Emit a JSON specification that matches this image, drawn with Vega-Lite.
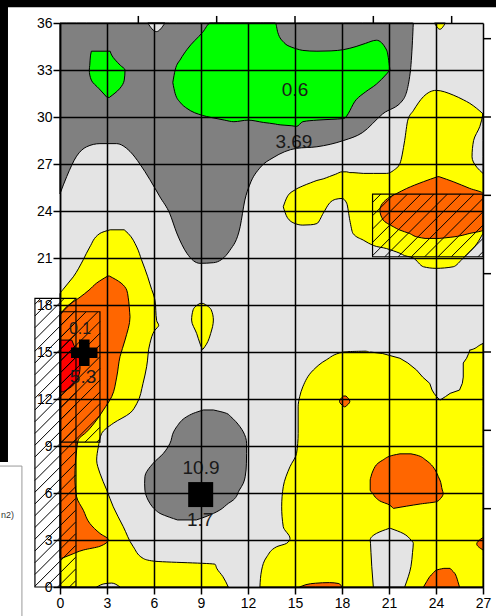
{
  "$schema": "https://vega.github.io/schema/vega-lite/v6.json",
  "width": 423,
  "height": 564,
  "autosize": {"type": "none"},
  "padding": {"left": 60, "top": 23, "right": 13, "bottom": 29},
  "background": "white",
  "config": {"view": {"stroke": null, "fill": "#E4E4E4"}},
  "datasets": {
    "bands": [{"x": -4, "x2": 28, "y": 37.01, "y2": 37.6}, {"x": -4, "x2": -3.32, "y": 7.98, "y2": 37.6}],
    "wbox": [{"x": -4.5, "x2": -2.43, "y": -2.5, "y2": 7.72}],
    "wtext": [{"x": -3.76, "y": 4.6, "t": "n2)"}],
    "darkV": [
      {"id": "A", "x": 0, "y": 25.1, "y2": 36}, {"id": "A", "x": 0.43, "y": 26.2, "y2": 36}, {"id": "A", "x": 1.06, "y": 27.5, "y2": 36},
      {"id": "A", "x": 1.7, "y": 28.1, "y2": 36}, {"id": "A", "x": 2.55, "y": 28.3, "y2": 36}, {"id": "A", "x": 3.6, "y": 28.3, "y2": 36},
      {"id": "A", "x": 4.47, "y": 27.8, "y2": 36}, {"id": "A", "x": 5.1, "y": 27.0, "y2": 36}, {"id": "A", "x": 5.74, "y": 26.0, "y2": 36},
      {"id": "A", "x": 6.38, "y": 24.9, "y2": 36}, {"id": "A", "x": 7.0, "y": 23.85, "y2": 36}, {"id": "A", "x": 7.45, "y": 22.6, "y2": 36},
      {"id": "A", "x": 8.1, "y": 21.3, "y2": 36}, {"id": "A", "x": 8.93, "y": 20.66, "y2": 36}, {"id": "A", "x": 9.8, "y": 20.7, "y2": 36},
      {"id": "A", "x": 10.85, "y": 21.5, "y2": 36}, {"id": "A", "x": 11.5, "y": 23.0, "y2": 36}, {"id": "A", "x": 11.8, "y": 24.7, "y2": 36},
      {"id": "A", "x": 12.1, "y": 25.65, "y2": 36}, {"id": "A", "x": 12.8, "y": 26.8, "y2": 36}, {"id": "A", "x": 13.6, "y": 27.4, "y2": 36},
      {"id": "A", "x": 15.1, "y": 28.0, "y2": 36}, {"id": "A", "x": 16.4, "y": 28.1, "y2": 36}, {"id": "A", "x": 18.1, "y": 28.5, "y2": 36},
      {"id": "A", "x": 19.3, "y": 29.0, "y2": 36}, {"id": "A", "x": 20.6, "y": 30.2, "y2": 36}, {"id": "A", "x": 21.9, "y": 31.1, "y2": 36},
      {"id": "A", "x": 22.35, "y": 32.8, "y2": 36}, {"id": "A", "x": 22.5, "y": 34.9, "y2": 36}, {"id": "A", "x": 22.55, "y": 36, "y2": 36}
    ],
    "greenH": [
      {"id": "B1", "y": 31.25, "x": 3.0, "x2": 3.15}, {"id": "B1", "y": 31.8, "x": 2.5, "x2": 3.8}, {"id": "B1", "y": 32.35, "x": 2.0, "x2": 4.1},
      {"id": "B1", "y": 33.0, "x": 1.87, "x2": 4.15}, {"id": "B1", "y": 33.3, "x": 1.9, "x2": 3.85}, {"id": "B1", "y": 33.95, "x": 1.95, "x2": 3.3},
      {"id": "B1", "y": 34.2, "x": 2.0, "x2": 3.2}
    ],
    "greenV": [
      {"id": "B2", "x": 7.2, "y": 32.2, "y2": 32.2}, {"id": "B2", "x": 7.35, "y": 31.5, "y2": 33.0}, {"id": "B2", "x": 7.7, "y": 30.9, "y2": 33.7},
      {"id": "B2", "x": 8.1, "y": 30.55, "y2": 34.3}, {"id": "B2", "x": 9.1, "y": 30.1, "y2": 35.4}, {"id": "B2", "x": 9.6, "y": 29.98, "y2": 36},
      {"id": "B2", "x": 10.5, "y": 29.8, "y2": 36}, {"id": "B2", "x": 11.1, "y": 29.7, "y2": 36}, {"id": "B2", "x": 12.0, "y": 29.8, "y2": 36},
      {"id": "B2", "x": 13.0, "y": 29.65, "y2": 36}, {"id": "B2", "x": 13.75, "y": 29.55, "y2": 36}, {"id": "B2", "x": 13.9, "y": 29.52, "y2": 35.4},
      {"id": "B2", "x": 14.3, "y": 29.48, "y2": 34.75}, {"id": "B2", "x": 14.8, "y": 29.44, "y2": 34.45}, {"id": "B2", "x": 15.1, "y": 29.4, "y2": 34.35},
      {"id": "B2", "x": 15.5, "y": 29.7, "y2": 34.25}, {"id": "B2", "x": 16.4, "y": 29.8, "y2": 34.2}, {"id": "B2", "x": 17.3, "y": 29.85, "y2": 34.22},
      {"id": "B2", "x": 18.1, "y": 29.9, "y2": 34.3}, {"id": "B2", "x": 18.9, "y": 31.1, "y2": 34.5}, {"id": "B2", "x": 19.5, "y": 31.6, "y2": 34.7},
      {"id": "B2", "x": 20.2, "y": 32.1, "y2": 34.9}, {"id": "B2", "x": 20.85, "y": 32.75, "y2": 34.27}, {"id": "B2", "x": 21.06, "y": 33.0, "y2": 33.0}
    ],
    "darkH": [
      {"id": "G", "y": 4.28, "x": 7.5, "x2": 8.7}, {"id": "G", "y": 4.45, "x": 7.0, "x2": 9.2}, {"id": "G", "y": 4.7, "x": 6.38, "x2": 9.8},
      {"id": "G", "y": 4.91, "x": 6.1, "x2": 10.2}, {"id": "G", "y": 5.34, "x": 5.74, "x2": 10.75}, {"id": "G", "y": 5.55, "x": 5.62, "x2": 11.06},
      {"id": "G", "y": 6.19, "x": 5.42, "x2": 11.45}, {"id": "G", "y": 6.62, "x": 5.4, "x2": 11.7}, {"id": "G", "y": 7.04, "x": 5.42, "x2": 11.82},
      {"id": "G", "y": 7.9, "x": 5.95, "x2": 11.9}, {"id": "G", "y": 8.53, "x": 6.6, "x2": 11.91}, {"id": "G", "y": 9.17, "x": 7.02, "x2": 11.91},
      {"id": "G", "y": 9.9, "x": 7.25, "x2": 11.7}, {"id": "G", "y": 10.23, "x": 7.45, "x2": 11.49}, {"id": "G", "y": 10.87, "x": 8.09, "x2": 10.9},
      {"id": "G", "y": 11.08, "x": 8.5, "x2": 10.64}, {"id": "G", "y": 11.3, "x": 9.15, "x2": 9.79}
    ],
    "yellowH": [
      {"id": "C1", "y": 0, "x": 0, "x2": 10.74}, {"id": "C1", "y": 0.66, "x": 0, "x2": 10.4}, {"id": "C1", "y": 1.2, "x": 0, "x2": 10.0},
      {"id": "C1", "y": 1.45, "x": 0, "x2": 9.9}, {"id": "C1", "y": 1.65, "x": 0, "x2": 6.0}, {"id": "C1", "y": 1.83, "x": 0, "x2": 5.3},
      {"id": "C1", "y": 2.57, "x": 0, "x2": 4.68}, {"id": "C1", "y": 3.85, "x": 0, "x2": 4.04}, {"id": "C1", "y": 5.12, "x": 0, "x2": 3.4},
      {"id": "C1", "y": 6.2, "x": 0, "x2": 2.98}, {"id": "C1", "y": 7.26, "x": 0, "x2": 2.55}, {"id": "C1", "y": 8.1, "x": 0, "x2": 2.34},
      {"id": "C1", "y": 8.95, "x": 0, "x2": 2.45}, {"id": "C1", "y": 9.8, "x": 0, "x2": 2.66}, {"id": "C1", "y": 10.45, "x": 0, "x2": 3.4},
      {"id": "C1", "y": 11.1, "x": 0, "x2": 4.47}, {"id": "C1", "y": 11.7, "x": 0, "x2": 4.9}, {"id": "C1", "y": 13.0, "x": 0, "x2": 5.3},
      {"id": "C1", "y": 14.06, "x": 0, "x2": 5.53}, {"id": "C1", "y": 15.55, "x": 0, "x2": 5.74}, {"id": "C1", "y": 16.4, "x": 0, "x2": 6.06},
      {"id": "C1", "y": 16.7, "x": 0, "x2": 6.3}, {"id": "C1", "y": 17.0, "x": 0, "x2": 6.17}, {"id": "C1", "y": 18.3, "x": 0, "x2": 6.06},
      {"id": "C1", "y": 18.7, "x": 0, "x2": 5.96}, {"id": "C1", "y": 19.0, "x": 0.2, "x2": 5.85}, {"id": "C1", "y": 19.8, "x": 0.85, "x2": 5.6},
      {"id": "C1", "y": 20.9, "x": 1.49, "x2": 5.2}, {"id": "C1", "y": 21.7, "x": 1.9, "x2": 4.9}, {"id": "C1", "y": 22.57, "x": 2.55, "x2": 4.35},
      {"id": "C1", "y": 22.8, "x": 3.2, "x2": 4.1},
      {"id": "C2", "y": 15.17, "x": 9.08, "x2": 9.12}, {"id": "C2", "y": 15.5, "x": 8.95, "x2": 9.35}, {"id": "C2", "y": 16.19, "x": 8.72, "x2": 9.62},
      {"id": "C2", "y": 17.04, "x": 8.4, "x2": 9.79}, {"id": "C2", "y": 17.7, "x": 8.5, "x2": 9.65}, {"id": "C2", "y": 17.95, "x": 8.7, "x2": 9.4},
      {"id": "C2", "y": 18.1, "x": 8.93, "x2": 9.15},
      {"id": "C4", "y": 0, "x": 12.76, "x2": 27}, {"id": "C4", "y": 1.08, "x": 12.87, "x2": 27}, {"id": "C4", "y": 1.93, "x": 13.2, "x2": 27},
      {"id": "C4", "y": 2.57, "x": 13.83, "x2": 27}, {"id": "C4", "y": 2.79, "x": 14.47, "x2": 27}, {"id": "C4", "y": 3.1, "x": 14.68, "x2": 27},
      {"id": "C4", "y": 3.85, "x": 14.25, "x2": 27}, {"id": "C4", "y": 5.12, "x": 14.15, "x2": 27}, {"id": "C4", "y": 6.4, "x": 14.25, "x2": 27},
      {"id": "C4", "y": 7.68, "x": 14.68, "x2": 27}, {"id": "C4", "y": 8.53, "x": 15.1, "x2": 27}, {"id": "C4", "y": 9.8, "x": 15.2, "x2": 27},
      {"id": "C4", "y": 11.5, "x": 15.2, "x2": 27}, {"id": "C4", "y": 12.15, "x": 15.3, "x2": 27}, {"id": "C4", "y": 12.78, "x": 15.5, "x2": 27},
      {"id": "C4", "y": 13.85, "x": 16.17, "x2": 27}, {"id": "C4", "y": 14.5, "x": 17.0, "x2": 27}, {"id": "C4", "y": 15.0, "x": 18.08, "x2": 27},
      {"id": "C4", "y": 15.06, "x": 19.8, "x2": 27}, {"id": "C4", "y": 15.12, "x": 26.16, "x2": 27}, {"id": "C4", "y": 15.44, "x": 26.8, "x2": 27},
      {"id": "C4", "y": 15.55, "x": 27, "x2": 27}
    ],
    "yellowV": [
      {"id": "C3", "x": 14.25, "y": 24.27, "y2": 24.27}, {"id": "C3", "x": 14.5, "y": 23.6, "y2": 24.9}, {"id": "C3", "x": 15.0, "y": 23.2, "y2": 25.35},
      {"id": "C3", "x": 15.5, "y": 23.1, "y2": 25.6}, {"id": "C3", "x": 16.0, "y": 23.12, "y2": 25.8}, {"id": "C3", "x": 16.4, "y": 23.2, "y2": 25.95},
      {"id": "C3", "x": 16.8, "y": 23.85, "y2": 26.05}, {"id": "C3", "x": 17.2, "y": 24.5, "y2": 26.2}, {"id": "C3", "x": 17.6, "y": 24.75, "y2": 26.35},
      {"id": "C3", "x": 18.0, "y": 24.8, "y2": 26.5}, {"id": "C3", "x": 18.3, "y": 24.5, "y2": 26.5}, {"id": "C3", "x": 18.5, "y": 23.4, "y2": 26.45},
      {"id": "C3", "x": 18.7, "y": 22.57, "y2": 26.45}, {"id": "C3", "x": 19.36, "y": 22.14, "y2": 26.4}, {"id": "C3", "x": 20.0, "y": 21.8, "y2": 26.4},
      {"id": "C3", "x": 20.85, "y": 21.6, "y2": 26.4}, {"id": "C3", "x": 21.3, "y": 21.45, "y2": 26.6}, {"id": "C3", "x": 21.7, "y": 21.3, "y2": 27.04},
      {"id": "C3", "x": 22.0, "y": 21.15, "y2": 28.5}, {"id": "C3", "x": 22.2, "y": 21.1, "y2": 29.8}, {"id": "C3", "x": 22.55, "y": 21.0, "y2": 30.4},
      {"id": "C3", "x": 23.2, "y": 20.44, "y2": 31.3}, {"id": "C3", "x": 24.0, "y": 20.34, "y2": 31.7}, {"id": "C3", "x": 25.1, "y": 20.44, "y2": 31.4},
      {"id": "C3", "x": 25.74, "y": 21.0, "y2": 31.1}, {"id": "C3", "x": 26.16, "y": 21.4, "y2": 30.87}, {"id": "C3", "x": 26.6, "y": 21.9, "y2": 30.55},
      {"id": "C3", "x": 27, "y": 22.57, "y2": 30.2},
      {"id": "C5", "x": 23.9, "y": 36, "y2": 36}, {"id": "C5", "x": 24.25, "y": 35.6, "y2": 36}, {"id": "C5", "x": 24.6, "y": 36, "y2": 36}
    ],
    "lightV": [
      {"id": "NT", "x": 5.6, "y": 36, "y2": 36}, {"id": "NT", "x": 6.15, "y": 35.45, "y2": 36}, {"id": "NT", "x": 6.7, "y": 36, "y2": 36},
      {"id": "BP", "x": 2.34, "y": 0, "y2": 0}, {"id": "BP", "x": 2.8, "y": 0, "y2": 0.2}, {"id": "BP", "x": 3.3, "y": 0, "y2": 0.25}, {"id": "BP", "x": 3.83, "y": 0, "y2": 0}
    ],
    "lightH": [
      {"id": "NR", "y": 26.4, "x": 27, "x2": 27}, {"id": "NR", "y": 26.8, "x": 26.6, "x2": 27}, {"id": "NR", "y": 27.46, "x": 26.3, "x2": 27},
      {"id": "NR", "y": 28.5, "x": 26.4, "x2": 27}, {"id": "NR", "y": 29.4, "x": 26.8, "x2": 27}, {"id": "NR", "y": 30.2, "x": 27, "x2": 27},
      {"id": "D1", "y": 0, "x": 20.0, "x2": 22.0}, {"id": "D1", "y": 1.3, "x": 19.9, "x2": 22.4}, {"id": "D1", "y": 2.2, "x": 19.85, "x2": 22.5},
      {"id": "D1", "y": 2.79, "x": 19.82, "x2": 22.55}, {"id": "D1", "y": 3.0, "x": 19.8, "x2": 22.4}, {"id": "D1", "y": 3.42, "x": 20.2, "x2": 21.9},
      {"id": "D1", "y": 3.74, "x": 21.0, "x2": 21.1}
    ],
    "lightFill": [
      {"id": "D2", "y": 11.93, "x": 24.25, "x2": 24.25}, {"id": "D2", "y": 12.15, "x": 24.04, "x2": 24.6}, {"id": "D2", "y": 12.36, "x": 23.88, "x2": 24.9},
      {"id": "D2", "y": 12.57, "x": 23.75, "x2": 25.5}, {"id": "D2", "y": 13.0, "x": 23.6, "x2": 25.68}, {"id": "D2", "y": 13.4, "x": 23.15, "x2": 25.74},
      {"id": "D2", "y": 13.85, "x": 22.76, "x2": 25.74}, {"id": "D2", "y": 14.3, "x": 22.2, "x2": 25.74}, {"id": "D2", "y": 14.6, "x": 21.7, "x2": 25.95},
      {"id": "D2", "y": 14.9, "x": 20.6, "x2": 26.08}, {"id": "D2", "y": 15.0, "x": 19.8, "x2": 26.1}, {"id": "D2", "y": 15.12, "x": 19.5, "x2": 26.14},
      {"id": "D2", "y": 15.4, "x": 19.2, "x2": 26.0}, {"id": "D2", "y": 15.7, "x": 19.0, "x2": 25.8}
    ],
    "lineD2": [
      {"i": 0, "x": 19.8, "y": 15.0}, {"i": 1, "x": 20.6, "y": 14.9}, {"i": 2, "x": 21.7, "y": 14.6}, {"i": 3, "x": 22.2, "y": 14.3},
      {"i": 4, "x": 22.76, "y": 13.85}, {"i": 5, "x": 23.15, "y": 13.4}, {"i": 6, "x": 23.6, "y": 13.0}, {"i": 7, "x": 23.75, "y": 12.57},
      {"i": 8, "x": 23.88, "y": 12.36}, {"i": 9, "x": 24.04, "y": 12.15}, {"i": 10, "x": 24.25, "y": 11.93}, {"i": 11, "x": 24.6, "y": 12.15},
      {"i": 12, "x": 24.9, "y": 12.36}, {"i": 13, "x": 25.5, "y": 12.57}, {"i": 14, "x": 25.68, "y": 13.0}, {"i": 15, "x": 25.74, "y": 13.4},
      {"i": 16, "x": 25.74, "y": 14.3}, {"i": 17, "x": 25.95, "y": 14.6}, {"i": 18, "x": 26.08, "y": 14.9}, {"i": 19, "x": 26.16, "y": 15.12}
    ],
    "orangeH": [
      {"id": "E1", "y": 1.83, "x": 0, "x2": 0.1}, {"id": "E1", "y": 2.04, "x": 0, "x2": 0.64}, {"id": "E1", "y": 2.36, "x": 0, "x2": 1.49},
      {"id": "E1", "y": 2.6, "x": 0, "x2": 2.55}, {"id": "E1", "y": 3.02, "x": 0, "x2": 3.08}, {"id": "E1", "y": 3.42, "x": 0, "x2": 2.55},
      {"id": "E1", "y": 4.06, "x": 0, "x2": 1.9}, {"id": "E1", "y": 4.9, "x": 0, "x2": 1.49}, {"id": "E1", "y": 5.76, "x": 0, "x2": 1.06},
      {"id": "E1", "y": 7.0, "x": 0, "x2": 0.95}, {"id": "E1", "y": 8.74, "x": 0, "x2": 1.06}, {"id": "E1", "y": 9.4, "x": 0, "x2": 1.17},
      {"id": "E1", "y": 9.9, "x": 0, "x2": 1.7}, {"id": "E1", "y": 10.66, "x": 0, "x2": 2.34}, {"id": "E1", "y": 11.3, "x": 0, "x2": 2.77},
      {"id": "E1", "y": 12.15, "x": 0, "x2": 3.3}, {"id": "E1", "y": 13.4, "x": 0, "x2": 3.62}, {"id": "E1", "y": 14.7, "x": 0, "x2": 3.83},
      {"id": "E1", "y": 15.76, "x": 0, "x2": 4.15}, {"id": "E1", "y": 17.25, "x": 0, "x2": 4.47}, {"id": "E1", "y": 17.5, "x": 0.1, "x2": 4.45},
      {"id": "E1", "y": 17.9, "x": 0.43, "x2": 4.42}, {"id": "E1", "y": 18.5, "x": 1.28, "x2": 4.35}, {"id": "E1", "y": 18.95, "x": 1.85, "x2": 4.26},
      {"id": "E1", "y": 19.4, "x": 2.34, "x2": 3.9}, {"id": "E1", "y": 19.85, "x": 3.05, "x2": 3.15},
      {"id": "E2", "y": 22.25, "x": 23.3, "x2": 24.2}, {"id": "E2", "y": 22.32, "x": 22.9, "x2": 24.9}, {"id": "E2", "y": 22.57, "x": 22.3, "x2": 26.16},
      {"id": "E2", "y": 22.78, "x": 21.7, "x2": 27}, {"id": "E2", "y": 23.0, "x": 21.27, "x2": 27}, {"id": "E2", "y": 23.42, "x": 20.63, "x2": 27},
      {"id": "E2", "y": 24.06, "x": 20.42, "x2": 27}, {"id": "E2", "y": 24.9, "x": 21.06, "x2": 27}, {"id": "E2", "y": 25.12, "x": 21.5, "x2": 27},
      {"id": "E2", "y": 25.44, "x": 22.13, "x2": 26.16}, {"id": "E2", "y": 25.87, "x": 23.2, "x2": 25.1}, {"id": "E2", "y": 26.19, "x": 24.1, "x2": 24.2},
      {"id": "E3", "y": 5.02, "x": 21.27, "x2": 21.3}, {"id": "E3", "y": 5.3, "x": 20.9, "x2": 23.0}, {"id": "E3", "y": 5.45, "x": 20.5, "x2": 24.04},
      {"id": "E3", "y": 5.66, "x": 20.2, "x2": 24.3}, {"id": "E3", "y": 5.98, "x": 19.95, "x2": 24.46}, {"id": "E3", "y": 6.19, "x": 19.8, "x2": 24.4},
      {"id": "E3", "y": 6.83, "x": 19.8, "x2": 24.25}, {"id": "E3", "y": 7.04, "x": 19.85, "x2": 24.15}, {"id": "E3", "y": 7.47, "x": 20.0, "x2": 23.95},
      {"id": "E3", "y": 7.9, "x": 20.3, "x2": 23.6}, {"id": "E3", "y": 8.1, "x": 20.6, "x2": 23.35}, {"id": "E3", "y": 8.42, "x": 21.3, "x2": 22.76},
      {"id": "E3", "y": 8.5, "x": 21.7, "x2": 22.4},
      {"id": "E4", "y": 0, "x": 23.2, "x2": 25.5}, {"id": "E4", "y": 0.34, "x": 23.4, "x2": 25.4}, {"id": "E4", "y": 0.66, "x": 23.6, "x2": 25.3},
      {"id": "E4", "y": 0.87, "x": 23.8, "x2": 25.2}, {"id": "E4", "y": 1.08, "x": 24.04, "x2": 25.0}, {"id": "E4", "y": 1.19, "x": 24.5, "x2": 24.9},
      {"id": "E6", "y": 2.36, "x": 27, "x2": 27}, {"id": "E6", "y": 2.75, "x": 26.6, "x2": 27}, {"id": "E6", "y": 3.13, "x": 26.95, "x2": 27},
      {"id": "E7", "y": 11.5, "x": 18.15, "x2": 18.2}, {"id": "E7", "y": 11.85, "x": 17.84, "x2": 18.5}, {"id": "E7", "y": 12.19, "x": 18.1, "x2": 18.25}
    ],
    "orangeV": [
      {"id": "E5", "x": 15.3, "y": 0, "y2": 0}, {"id": "E5", "x": 15.7, "y": 0, "y2": 0.15}, {"id": "E5", "x": 16.3, "y": 0, "y2": 0.24},
      {"id": "E5", "x": 17.2, "y": 0, "y2": 0.28}, {"id": "E5", "x": 17.8, "y": 0, "y2": 0.22}, {"id": "E5", "x": 18.0, "y": 0, "y2": 0}
    ],
    "redH": [
      {"id": "F1", "y": 12.45, "x": 0, "x2": 0.2}, {"id": "F1", "y": 12.8, "x": 0, "x2": 0.75}, {"id": "F1", "y": 13.4, "x": 0, "x2": 1.17},
      {"id": "F1", "y": 14.06, "x": 0, "x2": 1.28}, {"id": "F1", "y": 14.8, "x": 0, "x2": 1.2}, {"id": "F1", "y": 15.4, "x": 0, "x2": 0.9},
      {"id": "F1", "y": 15.76, "x": 0, "x2": 0.75}
    ],
    "hatch": [
      {"x": 0.6, "y": 0, "x2": 1.0, "y2": 0.4}, {"x": -0.15, "y": 0, "x2": 1.0, "y2": 1.15}, {"x": -0.9, "y": 0, "x2": 1.0, "y2": 1.9},
      {"x": -1.6, "y": 0.05, "x2": 1.0, "y2": 2.65}, {"x": -1.6, "y": 0.8, "x2": 1.0, "y2": 3.4}, {"x": -1.6, "y": 1.55, "x2": 1.0, "y2": 4.15},
      {"x": -1.6, "y": 2.3, "x2": 1.0, "y2": 4.9}, {"x": -1.6, "y": 3.05, "x2": 1.0, "y2": 5.65}, {"x": -1.6, "y": 3.8, "x2": 1.0, "y2": 6.4},
      {"x": -1.6, "y": 4.55, "x2": 1.0, "y2": 7.15}, {"x": -1.6, "y": 5.3, "x2": 1.0, "y2": 7.9}, {"x": -1.6, "y": 6.05, "x2": 1.0, "y2": 8.65},
      {"x": -1.6, "y": 6.8, "x2": 1.0, "y2": 9.4}, {"x": -1.6, "y": 7.55, "x2": 1.0, "y2": 10.15}, {"x": -1.6, "y": 8.3, "x2": 1.0, "y2": 10.9},
      {"x": -1.6, "y": 9.05, "x2": 1.0, "y2": 11.65}, {"x": -1.6, "y": 9.8, "x2": 1.0, "y2": 12.4}, {"x": -1.6, "y": 10.55, "x2": 1.0, "y2": 13.15},
      {"x": -1.6, "y": 11.3, "x2": 1.0, "y2": 13.9}, {"x": -1.6, "y": 12.05, "x2": 1.0, "y2": 14.65}, {"x": -1.6, "y": 12.8, "x2": 1.0, "y2": 15.4},
      {"x": -1.6, "y": 13.55, "x2": 1.0, "y2": 16.15}, {"x": -1.6, "y": 14.3, "x2": 1.0, "y2": 16.9}, {"x": -1.6, "y": 15.05, "x2": 1.0, "y2": 17.65},
      {"x": -1.6, "y": 15.8, "x2": 1.0, "y2": 18.4}, {"x": -1.6, "y": 16.55, "x2": 0.25, "y2": 18.4}, {"x": -1.6, "y": 17.3, "x2": -0.5, "y2": 18.4},
      {"x": -1.6, "y": 18.05, "x2": -1.25, "y2": 18.4},
      {"x": 2.35, "y": 9.25, "x2": 2.55, "y2": 9.45}, {"x": 1.6, "y": 9.25, "x2": 2.55, "y2": 10.2}, {"x": 0.85, "y": 9.25, "x2": 2.55, "y2": 10.95},
      {"x": 0.1, "y": 9.25, "x2": 2.55, "y2": 11.7}, {"x": 0, "y": 9.9, "x2": 2.55, "y2": 12.45}, {"x": 0, "y": 10.65, "x2": 2.55, "y2": 13.2},
      {"x": 0, "y": 11.4, "x2": 2.55, "y2": 13.95}, {"x": 0, "y": 12.15, "x2": 2.55, "y2": 14.7}, {"x": 0, "y": 12.9, "x2": 2.55, "y2": 15.45},
      {"x": 0, "y": 13.65, "x2": 2.55, "y2": 16.2}, {"x": 0, "y": 14.4, "x2": 2.55, "y2": 16.95}, {"x": 0, "y": 15.15, "x2": 2.4, "y2": 17.55},
      {"x": 0, "y": 15.9, "x2": 1.65, "y2": 17.55}, {"x": 0, "y": 16.65, "x2": 0.9, "y2": 17.55}, {"x": 0, "y": 17.4, "x2": 0.15, "y2": 17.55},
      {"x": 26.68, "y": 21.08, "x2": 27, "y2": 21.4}, {"x": 25.83, "y": 21.08, "x2": 27, "y2": 22.25}, {"x": 24.98, "y": 21.08, "x2": 27, "y2": 23.1},
      {"x": 24.13, "y": 21.08, "x2": 27, "y2": 23.95}, {"x": 23.28, "y": 21.08, "x2": 27, "y2": 24.8}, {"x": 22.43, "y": 21.08, "x2": 26.43, "y2": 25.08},
      {"x": 21.58, "y": 21.08, "x2": 25.58, "y2": 25.08}, {"x": 20.73, "y": 21.08, "x2": 24.73, "y2": 25.08}, {"x": 19.95, "y": 21.15, "x2": 23.88, "y2": 25.08},
      {"x": 19.95, "y": 22.0, "x2": 23.03, "y2": 25.08}, {"x": 19.95, "y": 22.85, "x2": 22.18, "y2": 25.08}, {"x": 19.95, "y": 23.7, "x2": 21.33, "y2": 25.08},
      {"x": 19.95, "y": 24.55, "x2": 20.48, "y2": 25.08}
    ],
    "boxes": [
      {"x": -1.6, "x2": 1.02, "y": 0, "y2": 18.42},
      {"x": 0, "x2": 2.55, "y": 9.25, "y2": 17.57},
      {"x": 19.95, "x2": 27, "y": 21.08, "y2": 25.08}
    ],
    "ticks": [
      {"x": 5, "y": 36, "x2": 5, "y2": 36.45}, {"x": 10, "y": 36, "x2": 10, "y2": 36.45}, {"x": 15, "y": 36, "x2": 15, "y2": 36.45},
      {"x": 20, "y": 36, "x2": 20, "y2": 36.45}, {"x": 25, "y": 36, "x2": 25, "y2": 36.45},
      {"x": 27, "y": 5, "x2": 27.51, "y2": 5}, {"x": 27, "y": 10, "x2": 27.51, "y2": 10}, {"x": 27, "y": 15, "x2": 27.51, "y2": 15},
      {"x": 27, "y": 20, "x2": 27.51, "y2": 20}, {"x": 27, "y": 25, "x2": 27.51, "y2": 25}, {"x": 27, "y": 30, "x2": 27.51, "y2": 30},
      {"x": 27, "y": 35, "x2": 27.51, "y2": 35}
    ],
    "bigLabels": [
      {"x": 15.0, "y": 31.72, "t": "0.6"}, {"x": 14.93, "y": 28.43, "t": "3.69"}, {"x": 9.0, "y": 7.6, "t": "10.9"},
      {"x": 8.95, "y": 4.3, "t": "1.7"}, {"x": 1.47, "y": 13.4, "t": "5.3"}
    ],
    "smallLabels": [{"x": 1.28, "y": 16.46, "t": "0.1"}],
    "square": [{"x": 8.98, "y": 5.9}],
    "cross": [{"x": 1.55, "y": 14.95}]
  },
  "encoding": {
    "x": {
      "field": "x", "type": "quantitative", "stack": null,
      "scale": {"domain": [0, 27], "nice": false, "zero": false},
      "axis": {"values": [0, 3, 6, 9, 12, 15, 18, 21, 24, 27], "title": null, "grid": true, "gridColor": "#000", "gridWidth": 1.5, "gridOpacity": 1,
        "domainColor": "#000", "domainWidth": 1.5, "tickColor": "#000", "tickWidth": 1.5, "tickSize": 7,
        "labelFont": "Liberation Sans", "labelFontSize": 14, "labelColor": "#000", "labelPadding": 2, "labelFlush": false, "labelOverlap": false, "zindex": 1}
    },
    "y": {
      "field": "y", "type": "quantitative", "stack": null,
      "scale": {"domain": [0, 36], "nice": false, "zero": false},
      "axis": {"values": [0, 3, 6, 9, 12, 15, 18, 21, 24, 27, 30, 33, 36], "title": null, "grid": true, "gridColor": "#000", "gridWidth": 1.5, "gridOpacity": 1,
        "domainColor": "#000", "domainWidth": 1.5, "tickColor": "#000", "tickWidth": 1.5, "tickSize": 7,
        "labelFont": "Liberation Sans", "labelFontSize": 14, "labelColor": "#000", "labelPadding": 1, "labelFlush": false, "labelOverlap": false, "zindex": 1}
    }
  },
  "layer": [
    {"data": {"name": "bands"}, "mark": {"type": "rect", "fill": "#000", "clip": false}, "encoding": {"x2": {"field": "x2"}, "y2": {"field": "y2"}}},
    {"data": {"name": "wbox"}, "mark": {"type": "rect", "fill": "#fff", "stroke": "#999", "strokeWidth": 1}, "encoding": {"x2": {"field": "x2"}, "y2": {"field": "y2"}}},
    {"data": {"name": "wtext"}, "mark": {"type": "text", "align": "left", "baseline": "middle", "font": "Liberation Sans", "fontSize": 9, "fill": "#333"}, "encoding": {"text": {"field": "t"}}},
    {"data": {"name": "darkV"}, "mark": {"type": "area", "orient": "vertical", "interpolate": "monotone", "fill": "#808080", "stroke": "#000", "strokeWidth": 1}, "encoding": {"y2": {"field": "y2"}, "detail": {"field": "id"}}},
    {"data": {"name": "greenH"}, "mark": {"type": "area", "orient": "horizontal", "interpolate": "monotone", "fill": "#00FF00", "stroke": "#000", "strokeWidth": 1}, "encoding": {"x2": {"field": "x2"}, "detail": {"field": "id"}}},
    {"data": {"name": "greenV"}, "mark": {"type": "area", "orient": "vertical", "interpolate": "monotone", "fill": "#00FF00", "stroke": "#000", "strokeWidth": 1}, "encoding": {"y2": {"field": "y2"}, "detail": {"field": "id"}}},
    {"data": {"name": "darkH"}, "mark": {"type": "area", "orient": "horizontal", "interpolate": "monotone", "fill": "#808080", "stroke": "#000", "strokeWidth": 1}, "encoding": {"x2": {"field": "x2"}, "detail": {"field": "id"}}},
    {"data": {"name": "yellowH"}, "mark": {"type": "area", "orient": "horizontal", "interpolate": "monotone", "fill": "#FFFF00", "stroke": "#000", "strokeWidth": 1}, "encoding": {"x2": {"field": "x2"}, "detail": {"field": "id"}}},
    {"data": {"name": "yellowV"}, "mark": {"type": "area", "orient": "vertical", "interpolate": "monotone", "fill": "#FFFF00", "stroke": "#000", "strokeWidth": 1}, "encoding": {"y2": {"field": "y2"}, "detail": {"field": "id"}}},
    {"data": {"name": "lightV"}, "mark": {"type": "area", "orient": "vertical", "interpolate": "monotone", "fill": "#E4E4E4", "stroke": "#000", "strokeWidth": 1}, "encoding": {"y2": {"field": "y2"}, "detail": {"field": "id"}}},
    {"data": {"name": "lightH"}, "mark": {"type": "area", "orient": "horizontal", "interpolate": "monotone", "fill": "#E4E4E4", "stroke": "#000", "strokeWidth": 1}, "encoding": {"x2": {"field": "x2"}, "detail": {"field": "id"}}},
    {"data": {"name": "lightFill"}, "mark": {"type": "area", "orient": "horizontal", "interpolate": "linear", "fill": "#E4E4E4"}, "encoding": {"x2": {"field": "x2"}, "detail": {"field": "id"}}},
    {"data": {"name": "lineD2"}, "mark": {"type": "line", "interpolate": "linear", "stroke": "#000", "strokeWidth": 1}, "encoding": {"order": {"field": "i"}}},
    {"data": {"name": "orangeH"}, "mark": {"type": "area", "orient": "horizontal", "interpolate": "monotone", "fill": "#FF6600", "stroke": "#000", "strokeWidth": 1}, "encoding": {"x2": {"field": "x2"}, "detail": {"field": "id"}}},
    {"data": {"name": "orangeV"}, "mark": {"type": "area", "orient": "vertical", "interpolate": "monotone", "fill": "#FF6600", "stroke": "#000", "strokeWidth": 1}, "encoding": {"y2": {"field": "y2"}, "detail": {"field": "id"}}},
    {"data": {"name": "redH"}, "mark": {"type": "area", "orient": "horizontal", "interpolate": "monotone", "fill": "#FF0000", "stroke": "#000", "strokeWidth": 1}, "encoding": {"x2": {"field": "x2"}, "detail": {"field": "id"}}},
    {"data": {"name": "hatch"}, "mark": {"type": "rule", "stroke": "#000", "strokeWidth": 1}, "encoding": {"x2": {"field": "x2"}, "y2": {"field": "y2"}}},
    {"data": {"name": "boxes"}, "mark": {"type": "rect", "fill": null, "fillOpacity": 0, "stroke": "#000", "strokeWidth": 1.2}, "encoding": {"x2": {"field": "x2"}, "y2": {"field": "y2"}}},
    {"data": {"name": "ticks"}, "mark": {"type": "rule", "stroke": "#000", "strokeWidth": 1.5}, "encoding": {"x2": {"field": "x2"}, "y2": {"field": "y2"}}},
    {"data": {"name": "bigLabels"}, "mark": {"type": "text", "align": "center", "baseline": "middle", "font": "Liberation Sans", "fontSize": 19, "fill": "#1a1a1a"}, "encoding": {"text": {"field": "t"}}},
    {"data": {"name": "smallLabels"}, "mark": {"type": "text", "align": "center", "baseline": "middle", "font": "Liberation Sans", "fontSize": 16, "fill": "#1a1a1a"}, "encoding": {"text": {"field": "t"}}},
    {"data": {"name": "square"}, "mark": {"type": "point", "shape": "square", "filled": true, "size": 625, "fill": "#000", "opacity": 1, "strokeWidth": 0}},
    {"data": {"name": "cross"}, "mark": {"type": "point", "shape": "cross", "filled": true, "size": 700, "fill": "#000", "opacity": 1, "strokeWidth": 0}}
  ]
}
